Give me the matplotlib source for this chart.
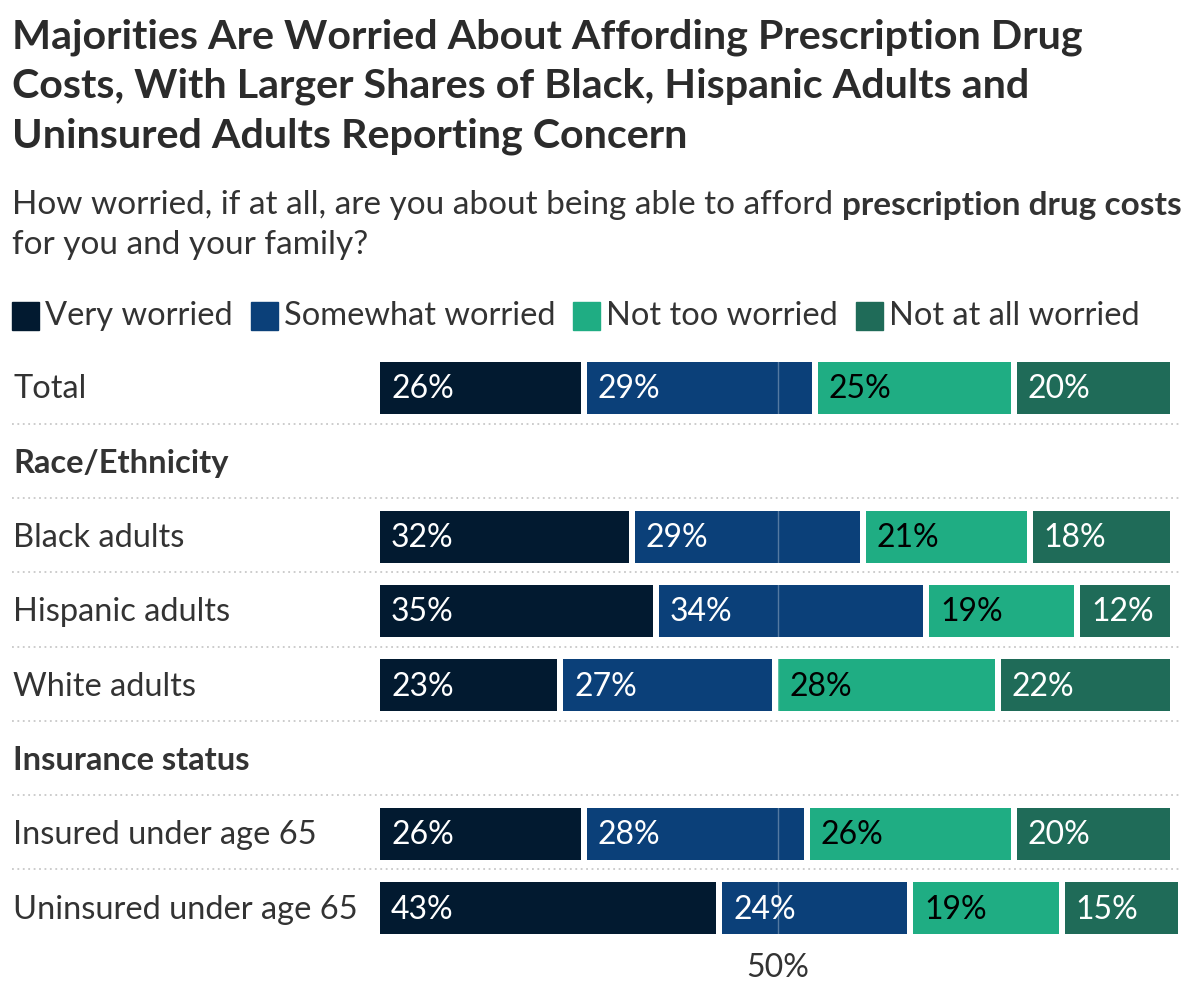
import matplotlib.pyplot as plt
from matplotlib.transforms import blended_transform_factory

plt.rcParams['font.family'] = ['Lato', 'DejaVu Sans']

# rows from top to bottom; header rows carry no bars
rows = ['Total', 'Race/Ethnicity', 'Black adults', 'Hispanic adults', 'White adults',
        'Insurance status', 'Insured under age 65', 'Uninsured under age 65']
headers = ['Race/Ethnicity', 'Insurance status']

series = ['Very worried', 'Somewhat worried', 'Not too worried', 'Not at all worried']
very = {'Total': 26, 'Black adults': 32, 'Hispanic adults': 35, 'White adults': 23,
        'Insured under age 65': 26, 'Uninsured under age 65': 43}
somewhat = {'Total': 29, 'Black adults': 29, 'Hispanic adults': 34, 'White adults': 27,
            'Insured under age 65': 28, 'Uninsured under age 65': 24}
not_too = {'Total': 25, 'Black adults': 21, 'Hispanic adults': 19, 'White adults': 28,
           'Insured under age 65': 26, 'Uninsured under age 65': 19}
not_at_all = {'Total': 20, 'Black adults': 18, 'Hispanic adults': 12, 'White adults': 22,
              'Insured under age 65': 20, 'Uninsured under age 65': 15}
values = [very, somewhat, not_too, not_at_all]

colors = ['#021a30', '#0b4079', '#1fad83', '#1f6b58']
label_colors = ['white', 'white', 'black', 'white']
text_col = '#333333'

fig = plt.figure(figsize=(12, 10.01), dpi=100)
ax = fig.add_axes([0, 0, 1, 1])
# pixel mapping: 0% at x=380px, ~7.96px per percent; row 0 at y=388px, 74.3px per row
xs = 7.96
ys = 74.3
ax.set_xlim(-380 / xs, (1200 - 380) / xs)
ax.set_ylim((1001 - 388) / ys, -388 / ys)
ax.axis('off')

gap = 6 / xs
for i, name in enumerate(rows):
    if name in headers:
        continue
    left = 0
    for k, d in enumerate(values):
        v = d[name]
        ax.barh(i, v - gap, left=left, height=0.70, color=colors[k], zorder=2)
        ax.text(left + 11 / xs, i + 0.02, f'{v}%', color=label_colors[k], fontsize=23,
                va='center', ha='left', zorder=4)
        left += v

# separators between rows
tr = blended_transform_factory(fig.transFigure, ax.transData)
for i in range(len(rows) - 1):
    ax.plot([12 / 1200, 1182 / 1200], [i + 0.48, i + 0.48], transform=tr,
            color='#c8c8c8', lw=1.3, ls=(0, (1, 2)), zorder=1)

# row labels
for i, name in enumerate(rows):
    ax.text(13 / 1200, i + 0.02, name, transform=tr, fontsize=23.5, color=text_col,
            va='center', ha='left', fontweight='bold' if name in headers else 'normal')

# 50% reference line
ax.plot([50, 50], [-0.35, len(rows) - 1 + 0.35], color='white', alpha=0.3, lw=1, zorder=3)
ax.text(50, (968 - 388) / ys, '50%', ha='center', va='center', fontsize=23, color=text_col)

# title and subtitle
fig.text(12 / 1200, 1 - 18 / 1001,
         'Majorities Are Worried About Affording Prescription Drug\n'
         'Costs, With Larger Shares of Black, Hispanic Adults and\n'
         'Uninsured Adults Reporting Concern',
         fontsize=29.7, fontweight='bold', color='#2b2b2b', va='top', ha='left',
         linespacing=1.4)
sub_y = 1 - 205 / 1001
t1 = fig.text(12 / 1200, sub_y,
              'How worried, if at all, are you about being able to afford ',
              fontsize=24, color=text_col, va='center', ha='left')
fig.canvas.draw()
bb = t1.get_window_extent()
fig.text(bb.x1 / 1200, sub_y, 'prescription drug costs',
         fontsize=24, fontweight='bold', color=text_col, va='center', ha='left')
fig.text(12 / 1200, 1 - 245 / 1001, 'for you and your family?',
         fontsize=24, color=text_col, va='center', ha='left')

# legend
lx = 12
ly = 316
for k, s in enumerate(series):
    fig.patches.append(plt.Rectangle((lx / 1200, 1 - (ly + 14) / 1001), 27 / 1200, 28 / 1001,
                                     transform=fig.transFigure, color=colors[k]))
    t = fig.text((lx + 33) / 1200, 1 - ly / 1001, s, fontsize=23.5, color=text_col,
                 va='center', ha='left')
    fig.canvas.draw()
    lx = t.get_window_extent().x1 + 18

fig.savefig('out.png', dpi=100)
